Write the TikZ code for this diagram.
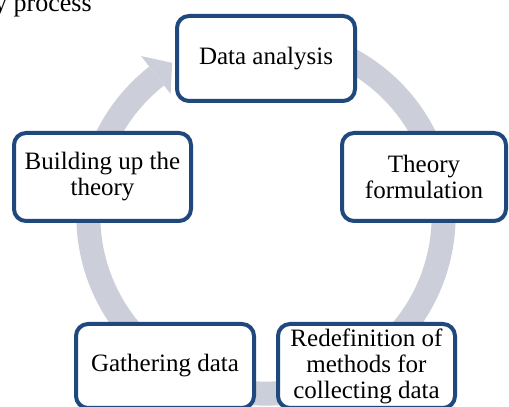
\documentclass[tikz,border=0pt]{standalone}
\usepackage{fontspec}
\setmainfont{Liberation Serif}
\usetikzlibrary{calc}
\definecolor{boxblue}{RGB}{31,72,124}
\definecolor{ringgray}{RGB}{204,207,217}
\begin{document}
\begin{tikzpicture}[x=1pt,y=1pt,
  stagebox/.style={draw=boxblue,line width=4pt,fill=white,rounded corners=12pt,
    align=center,inner sep=0pt,font=\fontsize{25}{26}\selectfont},
  ring/.style={draw=ringgray,line width=24pt}]
\useasboundingbox (0,0) rectangle (509,407);
% caption fragment
\node[anchor=base west,inner sep=0pt,font=\fontsize{26}{28}\selectfont] (cap) at (-6,395) {y process};
% ring
\coordinate (c) at (266,191);
\draw[ring] ($(c)+(75:177.6)$) arc[start angle=75,end angle=-232,radius=177.6];
\fill[ringgray] ($(c)+(128:203)$) -- ($(c)+(121.5:179.6)$) -- ($(c)+(128:155)$) -- cycle;
% boxes
\node[stagebox,minimum width=178pt,minimum height=85pt] (da) at (266,348.5) {Data analysis};
\node[stagebox,minimum width=177pt,minimum height=88pt] (bt) at (102.5,230) {Building up the\\theory};
\node[stagebox,minimum width=164pt,minimum height=88pt] (tf) at (424,230) {Theory\\formulation};
\node[stagebox,minimum width=178pt,minimum height=84pt] (gd) at (165,41) {Gathering data};
\node[stagebox,minimum width=177pt,minimum height=84pt] (rm) at (366.5,41) {Redefinition of\\methods for\\collecting data};
\end{tikzpicture}
\end{document}
